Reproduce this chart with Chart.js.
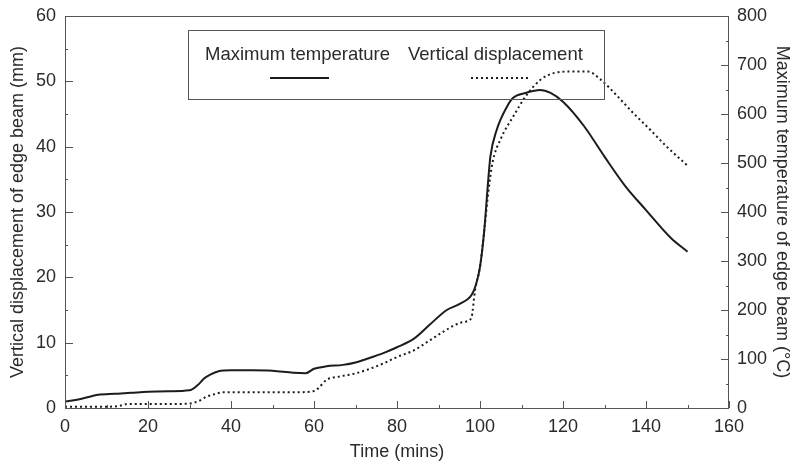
<!DOCTYPE html>
<html lang="en">
<head>
  <meta charset="UTF-8">
  <title>Edge beam temperature and displacement</title>
  <script src="https://cdn.jsdelivr.net/npm/chart.js"></script>
  <style>
    * { margin: 0; padding: 0; box-sizing: border-box; }
    body { background: #ffffff; width: 796px; height: 468px; overflow: hidden; }
    .wrap { position: relative; width: 796px; height: 468px; }
  </style>
</head>
<body>
  <div class="wrap">
    <canvas id="beamChart" width="796" height="468"></canvas>
  </div>

  <script>
    // Maximum temperature (solid line, right axis, degC)
    const tempTime = [0, 4, 8, 12, 16, 20, 25, 30, 32, 33.5, 35, 37, 40, 45, 50, 55, 58, 60, 63, 67, 70, 73, 77, 80, 84, 88, 92, 95, 98, 99, 100, 101, 102, 102.5, 104, 106.5, 108, 111, 114.5, 117, 120, 125, 130, 135, 140, 146, 150];
    const tempValues = [13, 19, 27, 29, 31, 33, 34, 36, 47, 60, 68, 75, 77, 77, 76, 72, 71, 80, 85, 88, 93, 101, 113, 124, 141, 171, 200, 212, 231, 251, 288, 360, 467, 513, 567, 615, 633, 643, 649, 643, 625, 576, 513, 453, 404, 347, 319];

    // Vertical displacement (dotted line, left axis, mm)
    const dispTime = [0, 5, 10, 13, 15, 20, 25, 30, 32, 34, 36, 38, 40, 45, 50, 55, 60, 61, 63, 66, 70, 73, 77, 80, 84, 88, 92, 95, 97, 98, 98.8, 100, 101, 102, 103, 105, 108, 111, 114.5, 118, 122, 126, 129, 133, 137, 141, 145, 150];
    const dispValues = [0.2, 0.2, 0.2, 0.3, 0.6, 0.6, 0.6, 0.7, 1.0, 1.7, 2.1, 2.4, 2.4, 2.4, 2.4, 2.4, 2.6, 3.0, 4.3, 4.8, 5.3, 5.9, 6.9, 7.8, 8.8, 10.4, 12.0, 13.0, 13.3, 14.0, 18.0, 21.6, 27, 33, 37.5, 41.2, 44.6, 47.7, 50.2, 51.3, 51.5, 51.5, 50.3, 47.8, 45.1, 42.6, 40.0, 37.1];

    const xTicks = [0, 20, 40, 60, 80, 100, 120, 140, 160];
    const yTicks = [0, 10, 20, 30, 40, 50, 60];
    const y2Ticks = [0, 100, 200, 300, 400, 500, 600, 700, 800];

    const legendLabels = ['Maximum temperature', 'Vertical displacement'];

    const ink = '#1c1c1c';
    const axisInk = '#555555';
    const textInk = '#2b2b2b';
    const fontFamily = '"Liberation Sans", Arial, Helvetica, sans-serif';

    // frame + inward tick marks, drawn through the chart scales
    const framePlugin = {
      id: 'frame',
      afterDraw(chart) {
        const { ctx, chartArea: a, scales } = chart;
        ctx.save();
        ctx.strokeStyle = axisInk;
        ctx.lineWidth = 1;
        ctx.strokeRect(a.left + 0.5, a.top + 0.5, a.right - a.left - 1, a.bottom - a.top);

        const mark = (scale, values, len, side) => {
          values.forEach(v => {
            const p = Math.round(scale.getPixelForValue(v)) + 0.5;
            ctx.beginPath();
            if (side === 'bottom') { ctx.moveTo(p, a.bottom); ctx.lineTo(p, a.bottom - len); }
            if (side === 'left') { ctx.moveTo(a.left, p); ctx.lineTo(a.left + len, p); }
            if (side === 'right') { ctx.moveTo(a.right, p); ctx.lineTo(a.right - len, p); }
            ctx.stroke();
          });
        };
        const mids = arr => arr.slice(1).map((v, i) => (v + arr[i]) / 2);
        mark(scales.x, xTicks, 7, 'bottom');
        mark(scales.x, mids(xTicks), 3, 'bottom');
        mark(scales.y, yTicks, 8, 'left');
        mark(scales.y, mids(yTicks), 3, 'left');
        mark(scales.y2, y2Ticks, 8, 'right');
        mark(scales.y2, mids(y2Ticks), 3, 'right');
        ctx.restore();
      }
    };

    // boxed legend: label text above a line sample
    const boxLegend = {
      id: 'boxLegend',
      afterDraw(chart) {
        const { ctx, chartArea: a } = chart;
        const x0 = a.left + 123, y0 = a.top + 14;
        ctx.save();
        ctx.strokeStyle = axisInk;
        ctx.lineWidth = 1;
        ctx.strokeRect(x0 + 0.5, y0 + 0.5, 416, 69);

        ctx.fillStyle = textInk;
        ctx.font = '18.5px ' + fontFamily;
        ctx.textBaseline = 'alphabetic';
        ctx.fillText(legendLabels[0], x0 + 17, y0 + 30);
        ctx.fillText(legendLabels[1], x0 + 220, y0 + 30);

        ctx.strokeStyle = ink;
        ctx.lineWidth = 2;
        ctx.beginPath();
        ctx.moveTo(x0 + 82, y0 + 48);
        ctx.lineTo(x0 + 141, y0 + 48);
        ctx.stroke();

        ctx.setLineDash([2, 3]);
        ctx.beginPath();
        ctx.moveTo(x0 + 283, y0 + 48);
        ctx.lineTo(x0 + 340, y0 + 48);
        ctx.stroke();
        ctx.restore();
      }
    };

    const toPoints = (xs, ys) => xs.map((x, i) => ({ x: x, y: ys[i] }));

    const tickFont = { family: fontFamily, size: 18 };
    const titleFont = { family: fontFamily, size: 18 };

    // fixed box sizes so the plot area sits where the original one does
    const fitV = w => s => { s.width = w; s.paddingTop = 0; s.paddingBottom = 0; };

    new Chart(document.getElementById('beamChart'), {
      type: 'line',
      data: {
        datasets: [
          {
            label: legendLabels[0],
            data: toPoints(tempTime, tempValues),
            yAxisID: 'y2',
            borderColor: ink,
            borderWidth: 2,
            pointRadius: 0,
            cubicInterpolationMode: 'monotone',
            fill: false
          },
          {
            label: legendLabels[1],
            data: toPoints(dispTime, dispValues),
            yAxisID: 'y',
            borderColor: ink,
            borderWidth: 2,
            borderDash: [2, 3],
            pointRadius: 0,
            cubicInterpolationMode: 'monotone',
            fill: false
          }
        ]
      },
      options: {
        responsive: false,
        animation: false,
        layout: { padding: { top: 16, left: 0, right: 0, bottom: 0 } },
        plugins: {
          legend: { display: false },
          tooltip: { enabled: false }
        },
        scales: {
          x: {
            type: 'linear',
            min: 0,
            max: 160,
            afterBuildTicks: s => { s.ticks = xTicks.map(v => ({ value: v })); },
            afterFit: s => { s.height = 60; s.paddingLeft = 0; s.paddingRight = 0; },
            grid: { display: false, drawTicks: false },
            border: { display: false },
            ticks: { color: textInk, font: tickFont, padding: 8, maxRotation: 0 },
            title: { display: true, text: 'Time (mins)', color: textInk, font: titleFont, padding: { top: 0, bottom: 5 } }
          },
          y: {
            position: 'left',
            min: 0,
            max: 60,
            afterBuildTicks: s => { s.ticks = yTicks.map(v => ({ value: v })); },
            afterFit: fitV(65),
            grid: { display: false, drawTicks: false },
            border: { display: false },
            ticks: { color: textInk, font: tickFont, padding: 9 },
            title: { display: true, text: 'Vertical displacement of edge beam (mm)', color: textInk, font: titleFont, padding: { top: 7, bottom: 0 } }
          },
          y2: {
            position: 'right',
            min: 0,
            max: 800,
            afterBuildTicks: s => { s.ticks = y2Ticks.map(v => ({ value: v })); },
            afterFit: fitV(67),
            grid: { display: false, drawTicks: false },
            border: { display: false },
            ticks: { color: textInk, font: tickFont, padding: 8 },
            title: { display: true, text: 'Maximum temperature of edge beam (°C)', color: textInk, font: titleFont, padding: { top: 3, bottom: 0 } }
          }
        }
      },
      plugins: [framePlugin, boxLegend]
    });
  </script>
</body>
</html>
